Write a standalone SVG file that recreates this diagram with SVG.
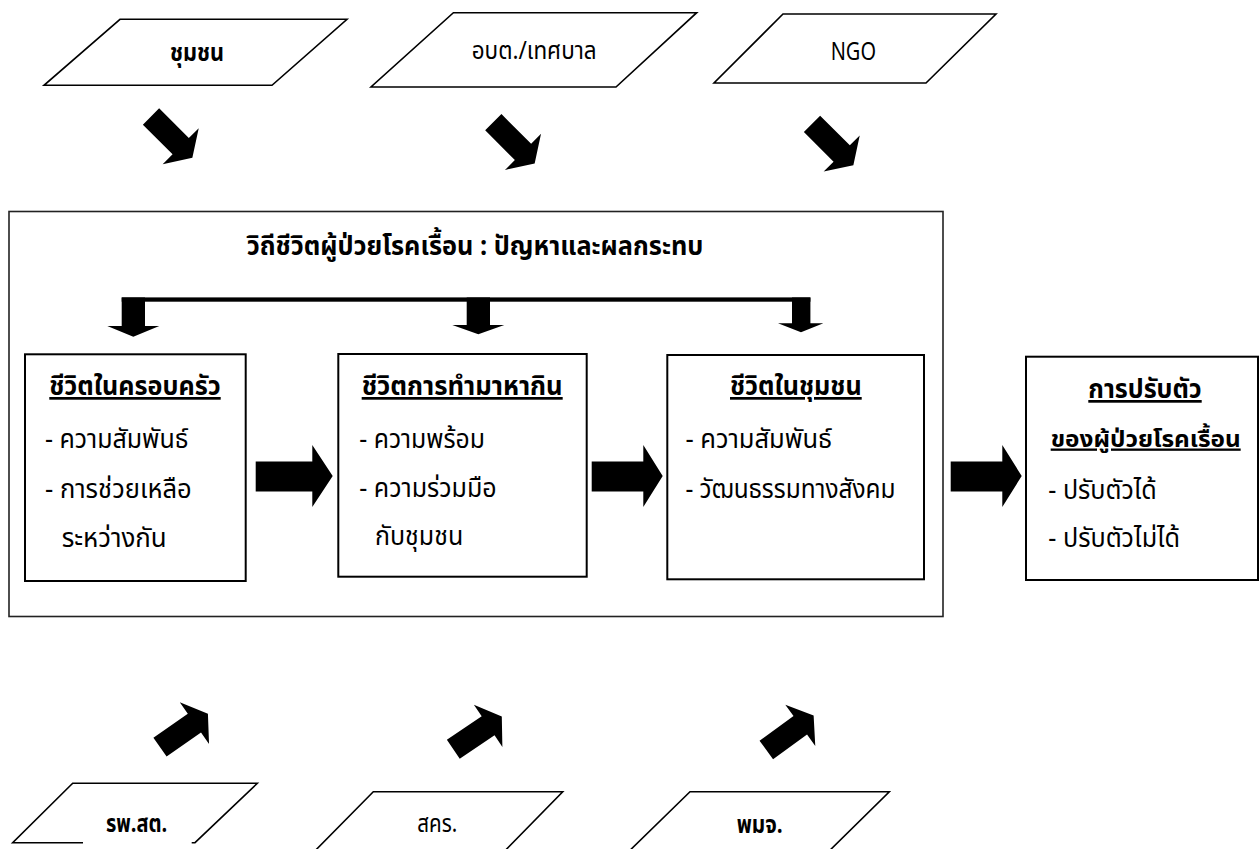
<svg xmlns="http://www.w3.org/2000/svg" xmlns:xlink="http://www.w3.org/1999/xlink" width="1259" height="849" viewBox="0 0 1259 849">
<style>
  text { font-family: 'Noto Sans Thai', 'Noto Sans', 'Noto Sans CJK SC', sans-serif; fill: #000; }
  .lbl { font-size: 25px; }
  .b { font-weight: bold; }
  .title { font-size: 27px; font-weight: bold; }
  .body { font-size: 27px; }
  .head { font-size: 27px; font-weight: bold; text-decoration: underline; }
  .head-s { font-size: 23px; }
  .para { fill: #fff; stroke: #000; stroke-width: 1.6; }
  .box { fill: #fff; stroke: #000; stroke-width: 2; }
  .frame { fill: none; stroke: #222; stroke-width: 1.6; }
  .arrow { fill: #000; stroke: none; }
</style>
<defs>
  <path id="diag" d="M0,-11.5 L42,-11.5 L42,-25.5 L58.5,0 L42,25.5 L42,11.5 L0,11.5 Z"/>
</defs>
<rect width="1259" height="849" fill="#fff"/>

<g id="frame-main">
  <rect class="frame" x="9" y="211.5" width="934" height="405"/>
  <text class="title" x="246.7" y="255" textLength="456.6" lengthAdjust="spacingAndGlyphs">วิถีชีวิตผู้ป่วยโรคเรื้อน : ปัญหาและผลกระทบ</text>
</g>

<g id="src-community">
  <polygon class="para" points="120,19.3 347,19.3 272,85.3 44,85.3"/>
  <text class="lbl b" x="170" y="61" textLength="54" lengthAdjust="spacingAndGlyphs">ชุมชน</text>
</g>
<g id="src-local-gov">
  <polygon class="para" points="453.4,12.7 696.7,12.7 616,87 371,87"/>
  <text class="lbl" x="471.7" y="59" textLength="125" lengthAdjust="spacingAndGlyphs">อบต./เทศบาล</text>
</g>
<g id="src-ngo">
  <polygon class="para" points="783,14 996,14 926,83 714,83"/>
  <text class="lbl" x="830.7" y="60" textLength="45.3" lengthAdjust="spacingAndGlyphs">NGO</text>
</g>

<g id="src-hospital">
  <polygon class="para" points="72.7,783.3 257.3,783.3 195,842.7 12.7,842.7"/>
  <rect x="83" y="805" width="108.7" height="44" fill="#fff"/>
  <text class="lbl b" x="106" y="831.7" textLength="61.3" lengthAdjust="spacingAndGlyphs">รพ.สต.</text>
</g>
<g id="src-dpc">
  <polygon class="para" points="373.3,791.7 562.7,791.7 494,862 304,862"/>
  <text class="lbl" x="417.3" y="831.7" textLength="40" lengthAdjust="spacingAndGlyphs">สคร.</text>
</g>
<g id="src-social">
  <polygon class="para" points="690,791.7 889.3,791.7 818,862 618,862"/>
  <text class="lbl b" x="736.7" y="833" textLength="46" lengthAdjust="spacingAndGlyphs">พมจ.</text>
</g>

<g id="box-family">
  <rect class="box" x="25" y="354.3" width="220.7" height="226.7"/>
  <text class="head" x="49.3" y="395" textLength="171.4" lengthAdjust="spacingAndGlyphs">ชีวิตในครอบครัว</text>
  <text class="body" x="45" y="448" textLength="143.3" lengthAdjust="spacingAndGlyphs">- ความสัมพันธ์</text>
  <text class="body" x="45" y="497.7" textLength="146.7" lengthAdjust="spacingAndGlyphs">- การช่วยเหลือ</text>
  <text class="body" x="61.7" y="546.7" textLength="105" lengthAdjust="spacingAndGlyphs">ระหว่างกัน</text>
</g>
<g id="box-livelihood">
  <rect class="box" x="338.3" y="354" width="248.4" height="222.7"/>
  <text class="head" x="361.7" y="395" textLength="201" lengthAdjust="spacingAndGlyphs">ชีวิตการทำมาหากิน</text>
  <text class="body" x="359.3" y="447.7" textLength="125.7" lengthAdjust="spacingAndGlyphs">- ความพร้อม</text>
  <text class="body" x="359.3" y="496.7" textLength="137.4" lengthAdjust="spacingAndGlyphs">- ความร่วมมือ</text>
  <text class="body" x="375" y="545" textLength="88.3" lengthAdjust="spacingAndGlyphs">กับชุมชน</text>
</g>
<g id="box-community-life">
  <rect class="box" x="667.3" y="355" width="256.7" height="224.3"/>
  <text class="head" x="730" y="395" textLength="131.7" lengthAdjust="spacingAndGlyphs">ชีวิตในชุมชน</text>
  <text class="body" x="685.4" y="448" textLength="146.6" lengthAdjust="spacingAndGlyphs">- ความสัมพันธ์</text>
  <text class="body" x="685.4" y="497.7" textLength="210.2" lengthAdjust="spacingAndGlyphs">- วัฒนธรรมทางสังคม</text>
</g>
<g id="box-adaptation">
  <rect class="box" x="1026" y="356.7" width="232" height="223.3"/>
  <text class="head" x="1088.3" y="398" textLength="113.4" lengthAdjust="spacingAndGlyphs">การปรับตัว</text>
  <text class="head head-s" x="1050.7" y="446.5" textLength="190" lengthAdjust="spacingAndGlyphs">ของผู้ป่วยโรคเรื้อน</text>
  <text class="body" x="1048.3" y="499" textLength="108.4" lengthAdjust="spacingAndGlyphs">- ปรับตัวได้</text>
  <text class="body" x="1048.3" y="546.7" textLength="131.7" lengthAdjust="spacingAndGlyphs">- ปรับตัวไม่ได้</text>
</g>

<g id="connectors">
  <use class="arrow" xlink:href="#diag" transform="translate(151,116.5) rotate(45)"/>
  <use class="arrow" xlink:href="#diag" transform="translate(493.3,122.2) rotate(45)"/>
  <use class="arrow" xlink:href="#diag" transform="translate(812,123.8) rotate(45)"/>
  <use class="arrow" xlink:href="#diag" transform="translate(160,747.2) rotate(-35)"/>
  <use class="arrow" xlink:href="#diag" transform="translate(453.3,749.3) rotate(-34)"/>
  <use class="arrow" xlink:href="#diag" transform="translate(766.3,750) rotate(-36)"/>
  <rect class="arrow" x="121.7" y="297.4" width="688.7" height="4.3"/>
  <polygon class="arrow" points="121.7,297.4 145,297.4 145,326 159.3,326 133.3,336.7 107.3,326 121.7,326"/>
  <polygon class="arrow" points="466.7,297.4 490,297.4 490,325 504.3,325 478.3,334.3 452.3,325 466.7,325"/>
  <polygon class="arrow" points="792,297.4 810.4,297.4 810.4,323.3 823.4,323.3 801,332.3 778,323.3 792,323.3"/>
  <polygon class="arrow" points="255.7,461.5 312.3,461.5 312.3,445 332.7,476 312.3,507 312.3,491.5 255.7,491.5"/>
  <polygon class="arrow" points="591.7,461.5 643.3,461.5 643.3,445 662.7,476 643.3,507 643.3,491.5 591.7,491.5"/>
  <polygon class="arrow" points="950.7,461.5 1002.3,461.5 1002.3,445 1021.7,476 1002.3,507 1002.3,491.5 950.7,491.5"/>
</g>
</svg>
